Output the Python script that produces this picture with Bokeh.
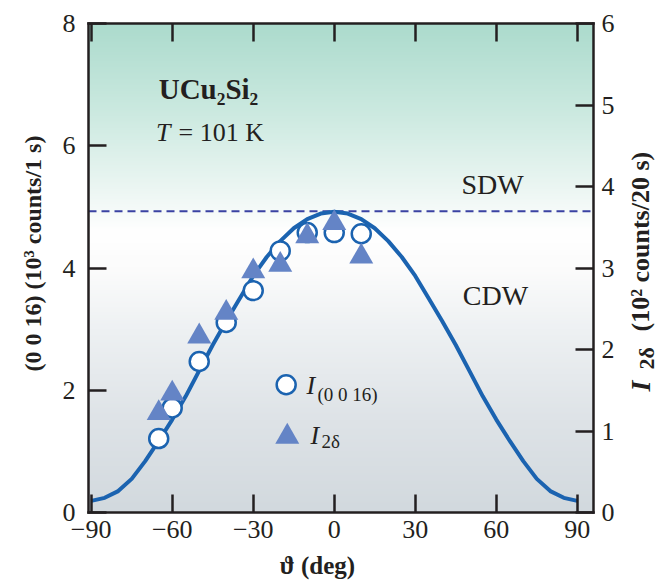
import numpy as np
from bokeh.plotting import figure
from bokeh.models import Range1d, LinearAxis, FixedTicker, Label
from bokeh.embed import file_html
from bokeh.resources import INLINE

# ---------------- data ----------------
curve_theta = [-90, -85, -80, -75, -70, -65, -60, -55, -50, -45, -40, -35, -30, -25, -20, -15, -10, -5,
               0, 5, 10, 15, 20, 25, 30, 35, 40, 45, 50, 55, 60, 65, 70, 75, 80, 85, 90]
curve_I = [0.19, 0.24, 0.35, 0.55, 0.84, 1.17, 1.52, 1.90, 2.32, 2.74, 3.13, 3.50, 3.87, 4.18, 4.44, 4.65, 4.80, 4.89,
           4.92, 4.89, 4.80, 4.65, 4.44, 4.18, 3.87, 3.50, 3.13, 2.74, 2.32, 1.90, 1.52, 1.17, 0.84, 0.55, 0.35, 0.24, 0.19]

theta_0016 = [-65, -60, -50, -40, -30, -20, -10, 0, 10]
I_0016 = [1.21, 1.71, 2.47, 3.11, 3.63, 4.28, 4.58, 4.58, 4.56]          # 10^3 counts / 1 s

theta_2d = [-65, -60, -50, -40, -30, -20, -10, 0, 10]
I_2d = [1.22, 1.46, 2.16, 2.45, 2.96, 3.04, 3.39, 3.55, 3.14]            # 10^2 counts / 20 s

sdw_level = 4.93

x_ticks = [-90, -60, -30, 0, 30, 60, 90]
yl_ticks = [0, 2, 4, 6, 8]
yr_ticks = [0, 1, 2, 3, 4, 5, 6]

# ---------------- layout / style ----------------
X_MIN, X_MAX = -91, 96          # extent of the drawn plot box
YL_MAX, YR_MAX = 8, 6
W, H = 658, 580
BOX_L, BOX_R, BOX_T, BOX_B = 88, 593, 23, 512   # pixel position of the drawn plot box
ppx = (BOX_R - BOX_L) / (X_MAX - X_MIN)         # px per degree
ppy = (BOX_B - BOX_T) / YL_MAX                  # px per left-axis unit

def xd(px):   # canvas pixel -> data x
    return X_MIN + (px - BOX_L) / ppx

def yd(py):   # canvas pixel -> data y (left axis units)
    return (BOX_B - py) / ppy

# the whole canvas is the frame; every axis is pinned to the drawn box
x_lo, x_hi = xd(0), xd(W)
y_lo, y_hi = yd(H), yd(0)
r_scale = YR_MAX / YL_MAX

SERIF = "Liberation Serif"
BLUE = "#1b63b0"
TRI = "#6484c6"
DASH = "#3a42a2"
AX = "#231f20"

p = figure(width=W, height=H, output_backend="svg", toolbar_location=None,
           x_range=Range1d(x_lo, x_hi), y_range=Range1d(y_lo, y_hi),
           min_border=0, min_border_left=0, min_border_right=0, min_border_top=0, min_border_bottom=0)
p.extra_y_ranges = {"r": Range1d(y_lo * r_scale, y_hi * r_scale)}
p.xgrid.visible = False
p.ygrid.visible = False
p.outline_line_color = None
p.background_fill_color = "white"
p.border_fill_color = "white"

# background gradient inside the plot box
stops_y = [0, 1.5, 3.0, 4.0, 4.6, 5.3, 6.5, 8]
stops_c = [(210, 217, 222), (222, 227, 231), (238, 241, 243), (252, 252, 252),
           (255, 255, 255), (236, 246, 243), (205, 234, 225), (172, 219, 205)]
ny = 400
ys = np.linspace(0, YL_MAX, ny)
img = np.empty((ny, 1), dtype=np.uint32)
v = img.view(dtype=np.uint8).reshape((ny, 1, 4))
for k in range(3):
    v[:, 0, k] = np.interp(ys, stops_y, [c[k] for c in stops_c]).astype(np.uint8)
v[:, 0, 3] = 255
p.image_rgba(image=[img], x=X_MIN, y=0, dw=X_MAX - X_MIN, dh=YL_MAX)

# SDW/CDW boundary
p.segment(x0=[X_MIN], x1=[X_MAX], y0=[sdw_level], y1=[sdw_level],
          line_color=DASH, line_width=2, line_dash="8 5")

# curve and data
p.line(curve_theta, curve_I, line_color=BLUE, line_width=4)
p.scatter(theta_0016, I_0016, marker="circle", size=19, fill_color="white",
          line_color=BLUE, line_width=2.5)
p.scatter(theta_2d, I_2d, marker="triangle", size=24, fill_color=TRI,
          line_color=None, y_range_name="r")

# axes
def style_axis(ax, labels=True):
    ax.major_tick_in = 18
    ax.major_tick_out = 0
    ax.minor_tick_line_color = None
    ax.axis_line_color = AX
    ax.axis_line_width = 2.5
    ax.axis_line_cap = "square"
    ax.major_tick_line_color = AX
    ax.major_tick_line_width = 2.5
    ax.major_label_text_font = SERIF
    ax.major_label_text_font_size = "26px"
    ax.major_label_text_color = AX if labels else None

xa = p.xaxis[0]
xa.ticker = FixedTicker(ticks=x_ticks)
xa.bounds = (X_MIN, X_MAX)
xa.fixed_location = 0
xa.major_label_overrides = {t: (("\u2212" + str(-t)) if t < 0 else str(t)) for t in x_ticks}
style_axis(xa)
xa.major_label_standoff = 8

ya = p.yaxis[0]
ya.ticker = FixedTicker(ticks=yl_ticks)
ya.bounds = (0, YL_MAX)
ya.fixed_location = X_MIN
style_axis(ya)
ya.major_label_standoff = 13

ta = LinearAxis(ticker=FixedTicker(ticks=x_ticks), bounds=(X_MIN, X_MAX), fixed_location=YL_MAX)
style_axis(ta, labels=False)
ta.major_label_text_font_size = "1px"
ta.major_label_standoff = 0
p.add_layout(ta, "above")

ra = LinearAxis(y_range_name="r", ticker=FixedTicker(ticks=yr_ticks), bounds=(0, YR_MAX), fixed_location=X_MAX)
style_axis(ra)
ra.major_label_standoff = 8
p.add_layout(ra, "right")

def text(px, py, s, size, style="normal", align="center", angle=0.0):
    """Label centred (vertically) on canvas pixel (px, py)."""
    p.add_layout(Label(x=xd(px), y=yd(py), text=s, angle=angle, text_font=SERIF,
                       text_font_size=f"{size}px", text_font_style=style, text_color=AX,
                       text_align=align, text_baseline="middle"))

ang = np.pi / 2
# axis titles
text(317, 565, "\u03d1 (deg)", 25, "bold")
text(32, 253, "(0 0 16) (10\u00b3 counts/1 s)", 24, "bold", angle=ang)
# right-hand title (reads bottom to top): I_2delta (10^2 counts/20 s)
text(640, 391, "I", 28, "bold italic", align="left", angle=ang)
text(646, 369, "2\u03b4", 22, "bold", align="left", angle=ang)
text(640, 331, "(10\u00b2 counts/20 s)", 26, "bold", align="left", angle=ang)

# annotations
text(208, 88, "UCu\u2082Si\u2082", 29, "bold")
text(170, 132, "T", 26, "italic", align="right")
text(178, 132, "= 101 K", 26, align="left")
text(492, 184, "SDW", 28)
text(495, 295, "CDW", 28)

# legend (manual, to allow italic + subscript)
p.scatter([-17.8], [2.09], marker="circle", size=19, fill_color="white", line_color=BLUE, line_width=2.5)
p.scatter([-17.4], [1.24], marker="triangle", size=24, fill_color=TRI, line_color=None)
text(306, 385, "I", 26, "italic", align="left")
text(317, 394, "(0 0 16)", 19, align="left")
text(310, 435, "I", 26, "italic", align="left")
text(321, 441, "2\u03b4", 19, align="left")

open("out.html", "w").write(file_html(p, INLINE))
